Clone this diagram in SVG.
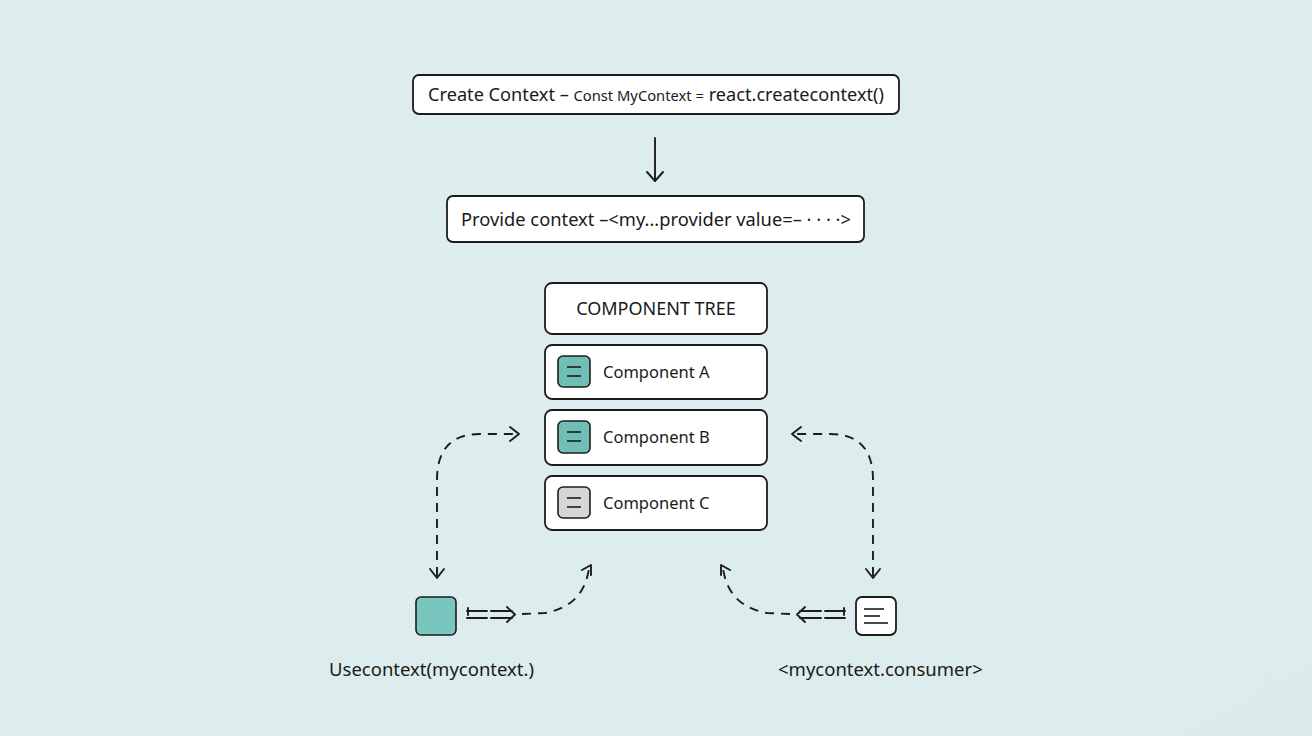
<svg xmlns="http://www.w3.org/2000/svg" width="1312" height="736" viewBox="0 0 1312 736">
<defs>
<style>
.box{fill:#ffffff;stroke:#1c1c1c;stroke-width:1.8}
.t{font-family:"Noto Sans","Open Sans",sans-serif;fill:#1a1a1a}
.dash{fill:none;stroke:#1c1c1c;stroke-width:1.9;stroke-dasharray:9 7}
.ln{fill:none;stroke:#1c1c1c;stroke-width:1.9;stroke-linecap:round;stroke-linejoin:round}
.ico{stroke:#1c1c1c;stroke-width:1.6}
</style>
<linearGradient id="bg" x1="0" y1="0" x2="1" y2="1">
<stop offset="0" stop-color="#deeeee"/>
<stop offset="1" stop-color="#dcebeb"/>
</linearGradient>
</defs>
<rect width="1312" height="736" fill="url(#bg)"/>

<g id="create-context">
<rect class="box" x="413" y="75" width="486" height="39" rx="6"/>
<text class="t" x="428" y="101" font-size="18.5" textLength="456" lengthAdjust="spacingAndGlyphs">Create Context – <tspan font-size="15">Const MyContext =</tspan> react.createcontext()</text>
</g>

<g id="provide-context">
<rect class="box" x="447" y="196" width="417" height="46" rx="6"/>
<text class="t" x="461" y="226" font-size="18.5" textLength="390" lengthAdjust="spacingAndGlyphs">Provide context –&lt;my...provider value=– · · · ·&gt;</text>
</g>

<g id="component-tree">
<rect class="box" x="545" y="283" width="222" height="51" rx="7"/>
<text class="t" x="656" y="315" font-size="18" text-anchor="middle">COMPONENT TREE</text>
</g>

<g id="component-a">
<rect class="box" x="545" y="345" width="222" height="54" rx="7"/>
<rect class="ico" x="558" y="356" width="32" height="31" rx="5" fill="#6fbfb6"/>
<line class="ico" x1="567" y1="367" x2="581" y2="367"/><line class="ico" x1="567" y1="376" x2="581" y2="376"/>
<text class="t" x="603" y="378" font-size="16.5">Component A</text>
</g>

<g id="component-b">
<rect class="box" x="545" y="410" width="222" height="55" rx="7"/>
<rect class="ico" x="558" y="421" width="32" height="32" rx="5" fill="#6fbfb6"/>
<line class="ico" x1="567" y1="432" x2="581" y2="432"/><line class="ico" x1="567" y1="441" x2="581" y2="441"/>
<text class="t" x="603" y="443" font-size="16.5">Component B</text>
</g>

<g id="component-c">
<rect class="box" x="545" y="476" width="222" height="54" rx="7"/>
<rect class="ico" x="558" y="487" width="32" height="31" rx="5" fill="#d4d6d8"/>
<line class="ico" x1="567" y1="498" x2="581" y2="498"/><line class="ico" x1="567" y1="507" x2="581" y2="507"/>
<text class="t" x="603" y="509" font-size="16.5">Component C</text>
</g>

<g id="use-context">
<rect class="ico" x="416" y="597" width="40" height="38" rx="5" fill="#78c6bd" stroke-width="1.8"/>
<text class="t" x="329" y="676" font-size="18.5">Usecontext(mycontext.)</text>
</g>

<g id="context-consumer">
<rect class="box" x="856" y="597" width="40" height="38" rx="6"/>
<line class="ico" x1="864" y1="609" x2="884" y2="609"/>
<line class="ico" x1="864" y1="616" x2="880" y2="616"/>
<line class="ico" x1="864" y1="623" x2="888" y2="623"/>
<text class="t" x="778" y="676" font-size="18.5">&lt;mycontext.consumer&gt;</text>
</g>

<g id="connectors">
<line class="ln" x1="655" y1="138" x2="655" y2="181"/>
<path class="ln" d="M647 172 L655 181 L663 172"/>

<path class="dash" d="M437 576 L437 480 Q437 434 480 434 L518 434"/>
<path class="ln" d="M430 569 L437 578 L444 569"/>
<path class="ln" d="M510 427 L519 434 L510 441"/>

<path class="dash" d="M873 576 L873 480 Q873 434 830 434 L794 434"/>
<path class="ln" d="M866 569 L873 578 L880 569"/>
<path class="ln" d="M801 427 L792 434 L801 441"/>

<path class="ln" d="M467 611 L487 611 M467 618 L487 618 M468 608 L468 615"/>
<path class="ln" d="M491 611 L512 611 M491 618 L512 618 M507 607 L515 614.5 L507 622"/>
<path class="dash" d="M522 614 L545 613 Q584 606 589 568"/>
<path class="ln" d="M582 570 L591 565 L591 575"/>

<path class="ln" d="M845 611 L825 611 M845 618 L825 618 M844 608 L844 615"/>
<path class="ln" d="M821 611 L800 611 M821 618 L800 618 M805 607 L797 614.5 L805 622"/>
<path class="dash" d="M790 614 L767 613 Q728 606 723 568"/>
<path class="ln" d="M730 570 L721 565 L721 575"/>
</g>
</svg>
